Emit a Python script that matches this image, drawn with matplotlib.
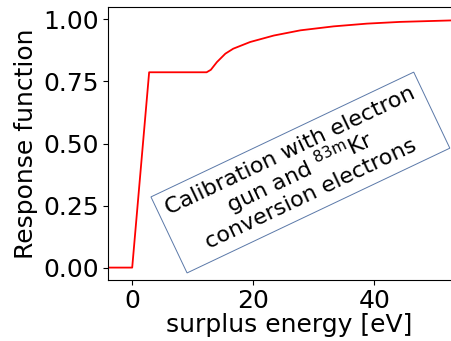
import matplotlib
matplotlib.use("Agg")
import matplotlib.pyplot as plt

# response function
energy = [-4, 0, 2.8, 12.3, 13.0, 14.0, 15.4, 16.7, 19.5, 23.4, 27.8, 33.3, 38.8, 44.3, 52.9, 56]
response = [0, 0, 0.787, 0.787, 0.797, 0.828, 0.862, 0.882, 0.909, 0.935, 0.956, 0.972, 0.983, 0.990, 0.996, 0.997]

x_ticks = [0, 20, 40]
y_ticks = [0.00, 0.25, 0.50, 0.75, 1.00]

fig = plt.figure(figsize=(4.52, 3.41), dpi=100)
ax = fig.add_axes([108 / 452, 61 / 341, 363 / 452, 273 / 341])

ax.plot(energy, response, color="red", lw=1.3)
ax.set_xlim(-4, 56)
ax.set_ylim(-0.05, 1.05)
ax.set_xticks(x_ticks)
ax.set_yticks(y_ticks)
ax.tick_params(labelsize=18, pad=3)
ax.set_xlabel("surplus energy [eV]", fontsize=18, labelpad=0)
ax.set_ylabel("Response function", fontsize=18, labelpad=4)

ax.text(27.8, 0.383,
        "Calibration with electron\ngun and $^{83\\mathrm{m}}$Kr\nconversion electrons",
        fontsize=16, rotation=25.4, rotation_mode="anchor",
        ha="center", va="center", multialignment="center", linespacing=0.95,
        bbox=dict(boxstyle="square,pad=0.38", fc="white", ec="#5a78a8", lw=0.7))

fig.savefig("out.png", dpi=100)
